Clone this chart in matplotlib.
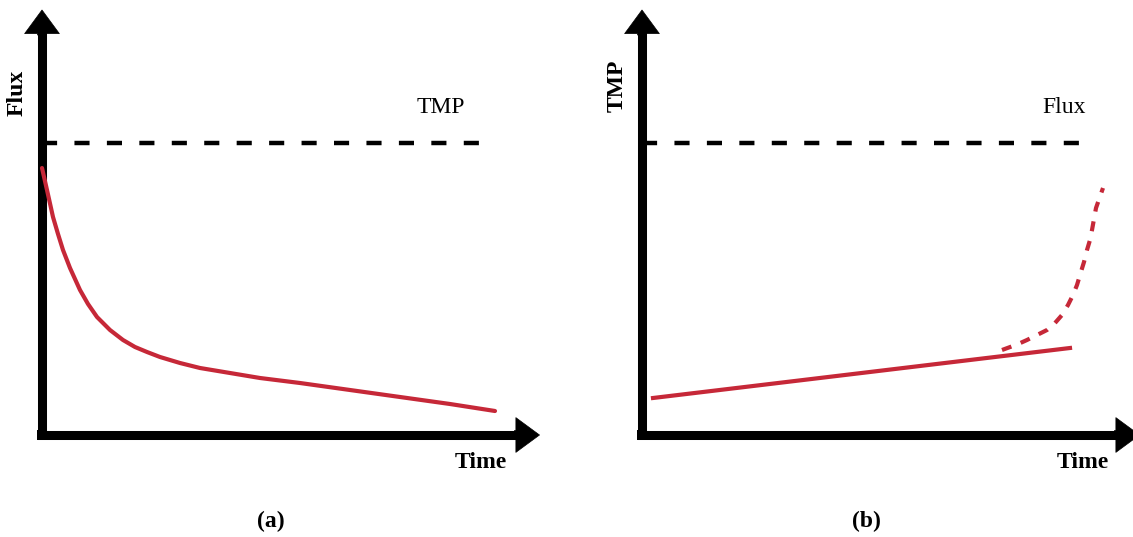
import matplotlib
matplotlib.use('Agg')
import matplotlib.pyplot as plt

plt.rcParams['font.family'] = ['Liberation Serif', 'DejaVu Serif']

RED = '#C62838'

# Panel (a): constant TMP, flux declines with time
flux_time = [0, 1, 2.2, 3.2, 4.2, 5.6, 7.6, 9.2, 11, 13.6, 16.2, 18.6, 21,
             23.6, 27.6, 31.6, 37.6, 43.6, 51.6, 61.6, 71.6, 81.6, 90.6]
flux_vals = [53.4, 49, 43.6, 40.2, 37, 33.4, 29, 26.2, 23.6, 21, 19, 17.6, 16.6,
             15.6, 14.4, 13.4, 12.4, 11.4, 10.4, 9, 7.6, 6.2, 4.8]
tmp_level = 58.4

# Panel (b): constant flux, TMP rises with time
tmp_time = [2.2, 85.6]
tmp_vals = [7.4, 17.4]
tmp_fast_time = [72, 75, 77, 79, 81, 82.6, 84, 85.2, 86.2, 87, 87.6, 88.4, 89,
                 89.6, 90, 90.4, 90.8, 91.5, 92.2]
tmp_fast_vals = [17, 18.1, 19, 20, 21, 22.4, 24, 26, 28, 30, 32, 34.6, 37,
                 39, 41, 43.2, 45.4, 47.4, 49.4]
flux_level = 58.4

line_end = 88.6
x_tip, y_tip = 99.5, 85
x_max, y_max = 100, 86


def draw_axes_arrows(ax):
    # thick L-shaped axes with filled arrow heads
    ax.plot([0, 0, x_tip - 4.3], [y_tip - 4.3, 0, 0], color='black', lw=6.5,
            solid_joinstyle='miter', solid_capstyle='butt', zorder=3,
            clip_on=False)
    ax.plot([0], [0], marker='s', ms=6.5, mew=0, color='black', zorder=3,
            clip_on=False)
    style = 'simple,head_length=1.7,head_width=2.5,tail_width=0.65'
    for tip in [(0, y_tip), (x_tip, 0)]:
        start = (0, y_tip - 5) if tip[0] == 0 else (x_tip - 5, 0)
        ax.annotate('', xy=tip, xytext=start, annotation_clip=False,
                    arrowprops=dict(arrowstyle=style, mutation_scale=10,
                                    fc='black', ec='black', lw=0.5,
                                    shrinkA=0, shrinkB=0), zorder=4)


def setup(ax):
    ax.set_xlim(0, x_max)
    ax.set_ylim(0, y_max)
    ax.axis('off')


fig = plt.figure(figsize=(11.33, 5.37), dpi=100)
W, H = 1133, 537
ax_a = fig.add_axes([42 / W, (H - 435) / H, 500 / W, 430 / H])
ax_b = fig.add_axes([642 / W, (H - 435) / H, 500 / W, 430 / H])

for ax in (ax_a, ax_b):
    setup(ax)
    draw_axes_arrows(ax)

# (a)
ax_a.plot([0, line_end], [tmp_level, tmp_level], color='black', lw=3.2,
          dashes=(3.4, 3.9), dash_capstyle='butt', zorder=2, clip_on=False)
ax_a.plot(flux_time, flux_vals, color=RED, lw=3, zorder=5,
          solid_capstyle='round', solid_joinstyle='round', clip_on=False)
ax_a.text(79.8, 63.4, 'TMP', fontsize=17, ha='center', va='bottom')
ax_a.text(-5, 68.4, 'Flux', fontsize=17, fontweight='bold', rotation=90,
          ha='center', va='center')
ax_a.text(87.8, -5.6, 'Time', fontsize=17, fontweight='bold',
          ha='center', va='center')
ax_a.text(45.8, -17.2, '(a)', fontsize=17, fontweight='bold',
          ha='center', va='center')

# (b)
ax_b.plot([0, line_end], [flux_level, flux_level], color='black', lw=3.2,
          dashes=(3.4, 3.9), dash_capstyle='butt', zorder=2, clip_on=False)
ax_b.plot(tmp_time, tmp_vals, color=RED, lw=3, zorder=2)
ax_b.plot(tmp_fast_time, tmp_fast_vals, color=RED, lw=3, zorder=2,
          dashes=(2.4, 2.4))
ax_b.text(84.4, 63.4, 'Flux', fontsize=17, ha='center', va='bottom')
ax_b.text(-5, 69.8, 'TMP', fontsize=17, fontweight='bold', rotation=90,
          ha='center', va='center')
ax_b.text(88.2, -5.6, 'Time', fontsize=17, fontweight='bold',
          ha='center', va='center')
ax_b.text(44.8, -17.2, '(b)', fontsize=17, fontweight='bold',
          ha='center', va='center')

fig.savefig('out.png', dpi=100)
